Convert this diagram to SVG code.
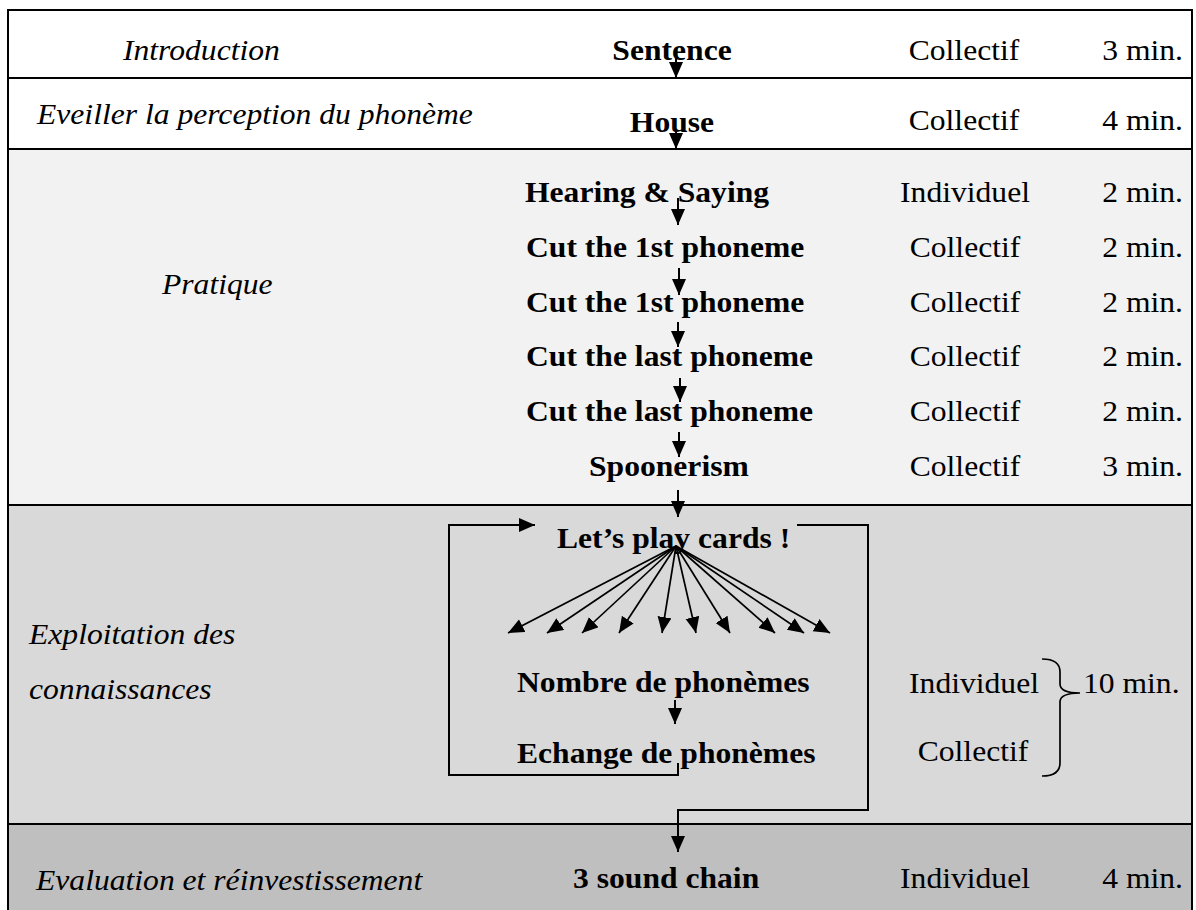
<svg xmlns="http://www.w3.org/2000/svg" width="1196" height="910" viewBox="0 0 1196 910">
<style>
.t{font-family:"Liberation Serif","Times New Roman",serif;font-size:29px;fill:#000}
.b{font-weight:bold}
.i{font-style:italic}
.m{text-anchor:middle}
.e{text-anchor:end}
.ln{stroke:#000;stroke-width:2;fill:none}
.c{stroke:#000;stroke-width:2;fill:none}
.f{stroke:#000;stroke-width:1.7;fill:none}
</style>
<defs>
<marker id="ah" markerUnits="userSpaceOnUse" markerWidth="17" markerHeight="15" refX="16" refY="7" orient="auto">
<path d="M0,0 L16,7 L0,14 z" fill="#000"/>
</marker>
</defs>
<rect width="1196" height="910" fill="#fff"/>
<g id="rows">
<rect x="8" y="10" width="1184" height="68" fill="#fff"/>
<rect x="8" y="78" width="1184" height="71" fill="#fff"/>
<rect x="8" y="149" width="1184" height="356" fill="#f2f2f2"/>
<rect x="8" y="505" width="1184" height="319" fill="#d9d9d9"/>
<rect x="8" y="824" width="1184" height="96" fill="#bfbfbf"/>
<path class="ln" d="M8,920 V10 H1192 V920"/>
<path class="ln" d="M8,78 H1192 M8,149 H1192 M8,505 H1192 M8,824 H1192"/>
</g>
<g id="connectors">
<line class="c" x1="676" y1="58" x2="676" y2="78" marker-end="url(#ah)"/>
<line class="c" x1="676" y1="132" x2="676" y2="149" marker-end="url(#ah)"/>
<line class="c" x1="678" y1="198" x2="678" y2="225" marker-end="url(#ah)"/>
<line class="c" x1="679" y1="268" x2="679" y2="295" marker-end="url(#ah)"/>
<line class="c" x1="678" y1="322" x2="678" y2="347" marker-end="url(#ah)"/>
<line class="c" x1="680" y1="378" x2="680" y2="402" marker-end="url(#ah)"/>
<line class="c" x1="679" y1="432" x2="679" y2="457" marker-end="url(#ah)"/>
<line class="c" x1="678" y1="490" x2="678" y2="517" marker-end="url(#ah)"/>
<g id="fan">
<line class="f" x1="676" y1="546" x2="508" y2="633" marker-end="url(#ah)"/>
<line class="f" x1="676" y1="546" x2="547" y2="633" marker-end="url(#ah)"/>
<line class="f" x1="676" y1="546" x2="582" y2="633" marker-end="url(#ah)"/>
<line class="f" x1="676" y1="546" x2="619" y2="633" marker-end="url(#ah)"/>
<line class="f" x1="676" y1="546" x2="662" y2="633" marker-end="url(#ah)"/>
<line class="f" x1="676" y1="546" x2="696" y2="633" marker-end="url(#ah)"/>
<line class="f" x1="676" y1="546" x2="730" y2="633" marker-end="url(#ah)"/>
<line class="f" x1="676" y1="546" x2="775" y2="633" marker-end="url(#ah)"/>
<line class="f" x1="676" y1="546" x2="804" y2="633" marker-end="url(#ah)"/>
<line class="f" x1="676" y1="546" x2="830" y2="633" marker-end="url(#ah)"/>
</g>
<line class="c" x1="675" y1="700" x2="675" y2="724" marker-end="url(#ah)"/>
<path class="c" d="M678,763 V775 H449 V525 H535" marker-end="url(#ah)"/>
<path class="c" d="M797,525 H868 V810 H678 V852" marker-end="url(#ah)"/>
<path class="f" d="M1042,659 Q1060,659 1060,672 L1060,684 Q1060,693 1080,693 Q1060,693 1060,702 L1060,763 Q1060,776 1042,776"/>
</g>
<g id="row-introduction">
<text class="t i" transform="translate(123,60) scale(1.09,1)">Introduction</text>
<g id="n-sentence"><text class="t b m" transform="translate(672,60) scale(1.09,1)">Sentence</text></g>
<text class="t m" transform="translate(964,60) scale(1.09,1)">Collectif</text>
<text class="t e" transform="translate(1183,60) scale(1.09,1)">3 min.</text>
</g>
<g id="row-eveiller">
<text class="t i" transform="translate(37,124) scale(1.09,1)">Eveiller la perception du phonème</text>
<g id="n-house"><text class="t b m" transform="translate(672,132) scale(1.09,1)">House</text></g>
<text class="t m" transform="translate(964,130) scale(1.09,1)">Collectif</text>
<text class="t e" transform="translate(1183,130) scale(1.09,1)">4 min.</text>
</g>
<g id="row-pratique">
<text class="t i" transform="translate(162,294) scale(1.09,1)">Pratique</text>
<g id="n-hearing"><text class="t b" transform="translate(525,202) scale(1.09,1)">Hearing &amp; Saying</text></g>
<text class="t m" transform="translate(965,202) scale(1.09,1)">Individuel</text>
<text class="t e" transform="translate(1183,202) scale(1.09,1)">2 min.</text>
<g id="n-cut1a"><text class="t b" transform="translate(526,257) scale(1.09,1)">Cut the 1st phoneme</text></g>
<text class="t m" transform="translate(965,257) scale(1.09,1)">Collectif</text>
<text class="t e" transform="translate(1183,257) scale(1.09,1)">2 min.</text>
<g id="n-cut1b"><text class="t b" transform="translate(526,312) scale(1.09,1)">Cut the 1st phoneme</text></g>
<text class="t m" transform="translate(965,312) scale(1.09,1)">Collectif</text>
<text class="t e" transform="translate(1183,312) scale(1.09,1)">2 min.</text>
<g id="n-cutla"><text class="t b" transform="translate(526,366) scale(1.09,1)">Cut the last phoneme</text></g>
<text class="t m" transform="translate(965,366) scale(1.09,1)">Collectif</text>
<text class="t e" transform="translate(1183,366) scale(1.09,1)">2 min.</text>
<g id="n-cutlb"><text class="t b" transform="translate(526,421) scale(1.09,1)">Cut the last phoneme</text></g>
<text class="t m" transform="translate(965,421) scale(1.09,1)">Collectif</text>
<text class="t e" transform="translate(1183,421) scale(1.09,1)">2 min.</text>
<g id="n-spoonerism"><text class="t b" transform="translate(589,476) scale(1.09,1)">Spoonerism</text></g>
<text class="t m" transform="translate(965,476) scale(1.09,1)">Collectif</text>
<text class="t e" transform="translate(1183,476) scale(1.09,1)">3 min.</text>
</g>
<g id="row-exploitation">
<text class="t i" transform="translate(29,644) scale(1.09,1)">Exploitation des</text>
<text class="t i" transform="translate(29,699) scale(1.09,1)">connaissances</text>
<g id="n-cards"><text class="t b" transform="translate(557,548) scale(1.09,1)">Let’s play cards !</text></g>
<g id="n-nombre"><text class="t b" transform="translate(517,692) scale(1.09,1)">Nombre de phonèmes</text></g>
<g id="n-echange"><text class="t b" transform="translate(517,763) scale(1.09,1)">Echange de phonèmes</text></g>
<text class="t m" transform="translate(974,693) scale(1.09,1)">Individuel</text>
<text class="t m" transform="translate(973,761) scale(1.09,1)">Collectif</text>
<text class="t" transform="translate(1083,693) scale(1.09,1)">10 min.</text>
</g>
<g id="row-evaluation">
<text class="t i" transform="translate(36,890) scale(1.09,1)">Evaluation et réinvestissement</text>
<g id="n-chain"><text class="t b" transform="translate(573,888) scale(1.09,1)">3 sound chain</text></g>
<text class="t m" transform="translate(965,888) scale(1.09,1)">Individuel</text>
<text class="t e" transform="translate(1183,888) scale(1.09,1)">4 min.</text>
</g>
</svg>
